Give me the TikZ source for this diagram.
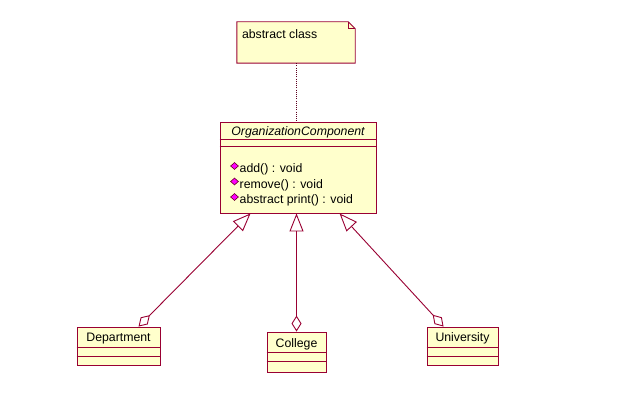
\documentclass[tikz,border=0pt]{standalone}
\usepackage{fontspec}
\setmainfont{Liberation Sans}
\usetikzlibrary{arrows.meta,calc,shapes.geometric}

\definecolor{umlline}{RGB}{153,0,51}
\definecolor{umlfill}{RGB}{255,255,204}
\definecolor{opicon}{RGB}{255,0,255}

\tikzset{
  umltext/.style={font=\fontsize{12.3}{14}\selectfont, text=black, inner sep=0pt},
  classbox/.style={draw=umlline, fill=umlfill, line width=0.9pt, inner sep=0pt},
  sepline/.style={draw=umlline, line width=0.9pt},
  opmark/.style={shape=diamond, draw=umlline!70!black, fill=opicon, line width=0.6pt,
                 minimum width=8pt, minimum height=7pt, inner sep=0pt},
  generalize/.style={draw=umlline, line width=0.9pt,
    {Diamond[open, length=16pt, width=10pt]}-{Triangle[open, length=18pt, width=14pt]}},
  notelink/.style={draw=umlline!60!black, line width=0.9pt, dash pattern=on 1pt off 1.2pt},
}

\begin{document}
\begin{tikzpicture}[x=1pt, y=-1pt]
  \useasboundingbox[fill=white] (0,0) rectangle (632,420);

  % note with folded corner
  \node[minimum width=118pt, minimum height=41pt, inner sep=0pt] (note) at (296,42.5) {};
  \draw[classbox] (note.north west) -- ([xshift=-7pt]note.north east)
        -- ([yshift=-7pt]note.north east) -- (note.south east)
        -- (note.south west) -- cycle;
  \draw[sepline] ([xshift=-7pt]note.north east) -- ([xshift=-7pt,yshift=-7pt]note.north east)
        -- ([yshift=-7pt]note.north east);
  \node[umltext, anchor=west] (notetext) at ($(note.north west)+(5,12.5)$) {abstract class};

  % abstract component class
  \node[classbox, minimum width=156pt, minimum height=91pt] (comp) at (298,167.5) {};
  \draw[sepline] ($(comp.north west)+(0,18)$) -- ++(156,0);
  \draw[sepline] ($(comp.north west)+(0,25)$) -- ++(156,0);
  \node[umltext, font=\fontsize{12.3}{14}\selectfont\itshape] (compname)
        at ($(comp.north)+(0,11)$) {OrganizationComponent};
  \node[opmark] (m1) at (234.5,166) {};
  \node[opmark] (m2) at (234.5,181.5) {};
  \node[opmark] (m3) at (234.5,197) {};
  \node[umltext, anchor=west] (op1) at (239.5,169.5) {add() : void};
  \node[umltext, anchor=west] (op2) at (239.5,185) {remove() : void};
  \node[umltext, anchor=west] (op3) at (239.5,200.5) {abstract print() : void};

  % leaf classes
  \node[classbox, minimum width=83pt, minimum height=38pt] (dept) at (118.5,346) {};
  \draw[sepline] ($(dept.north west)+(0,21)$) -- ++(83,0);
  \draw[sepline] ($(dept.north west)+(0,30)$) -- ++(83,0);
  \node[umltext] (deptname) at ($(dept.north)+(0,12)$) {Department};

  \node[classbox, minimum width=59pt, minimum height=40pt] (coll) at (296.5,352) {};
  \draw[sepline] ($(coll.north west)+(0,21)$) -- ++(59,0);
  \draw[sepline] ($(coll.north west)+(0,30)$) -- ++(59,0);
  \node[umltext] (collname) at ($(coll.north)+(0,12.5)$) {College};

  \node[classbox, minimum width=71pt, minimum height=38pt] (univ) at (462.5,346) {};
  \draw[sepline] ($(univ.north west)+(0,21)$) -- ++(71,0);
  \draw[sepline] ($(univ.north west)+(0,30)$) -- ++(71,0);
  \node[umltext] (univname) at ($(univ.north)+(0,12)$) {University};

  % connector end points on the class borders
  \coordinate (deptTop) at ($(dept.north west)+(62,0)$);
  \coordinate (univTop) at ($(univ.north west)+(17,0)$);
  \coordinate (compL) at ($(comp.south west)+(31,0)$);
  \coordinate (compR) at ($(comp.south west)+(120,0)$);

  % connectors
  \draw[notelink] (note.south) -- (note.south |- comp.north);
  \draw[generalize] (deptTop) -- (compL);
  \draw[generalize] (coll.north) -- (coll.north |- comp.south);
  \draw[generalize] (univTop) -- (compR);
\end{tikzpicture}
\end{document}
